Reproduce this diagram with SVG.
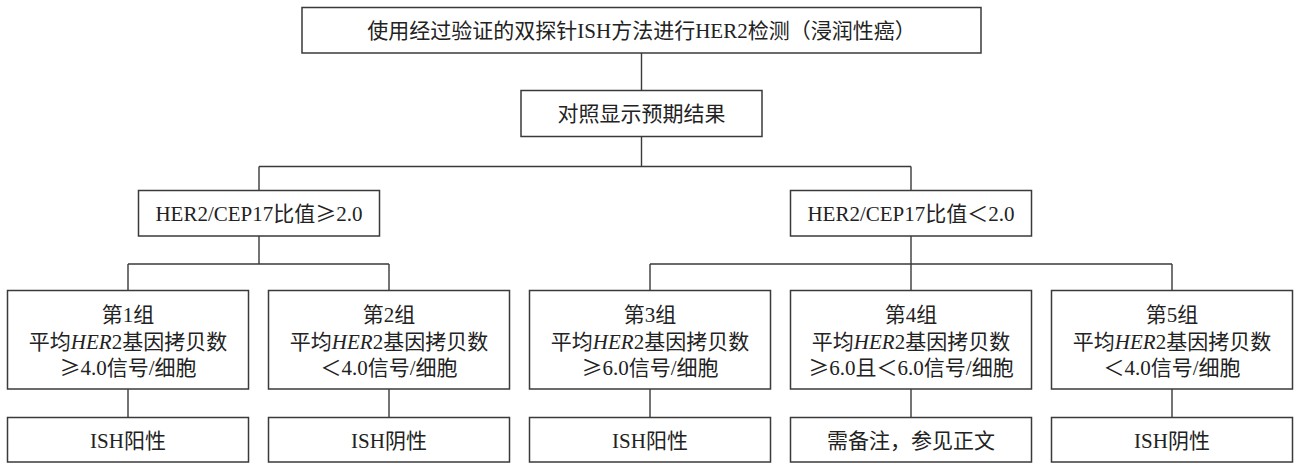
<svg xmlns="http://www.w3.org/2000/svg" width="1296" height="463" viewBox="0 0 1296 463">
<style>
.box{fill:#fff;stroke:#3a3a3a;stroke-width:1.5}
.ln{fill:none;stroke:#3a3a3a;stroke-width:1.4}
text{font-family:"Liberation Serif","Noto Sans CJK SC",serif;font-size:21px;fill:#222;text-anchor:middle}
.i{font-style:italic}
.s{font-family:"Noto Sans CJK SC",sans-serif}
</style>
<rect width="1296" height="463" fill="#fff"/>
<g id="connectors">
<path class="ln" d="M641.5,53 V90.5 M641.5,136.5 V166.5 M259,166.5 H911 M259,166.5 V190.5 M911,166.5 V190.5"/>
<path class="ln" d="M259,236 V264 M128,264 H389 M128,264 V290.5 M389,264 V290.5"/>
<path class="ln" d="M911,236 V264 M650,264 H1172 M650,264 V290.5 M911,264 V290.5 M1172,264 V290.5"/>
<path class="ln" d="M128,389 V417.5 M389,389 V417.5 M650,389 V417.5 M911,389 V417.5 M1172,389 V417.5"/>
</g>
<g id="top"><rect class="box" x="302" y="7.5" width="679" height="45.5"/><text x="641.5" y="38">使用经过验证的双探针ISH方法进行HER2检测（浸润性癌）</text></g>
<g id="control"><rect class="box" x="521" y="90.5" width="241" height="46"/><text x="641.5" y="121">对照显示预期结果</text></g>
<g id="ratio-high"><rect class="box" x="138.5" y="190.5" width="241" height="45.5"/><text x="259" y="221">HER2/CEP17比值<tspan class="s">≥</tspan>2.0</text></g>
<g id="ratio-low"><rect class="box" x="790.5" y="190.5" width="241" height="45.5"/><text x="911" y="221">HER2/CEP17比值＜2.0</text></g>
<g id="group1"><rect class="box" x="7.5" y="290.5" width="241" height="98.5"/><text x="128" y="322">第1组</text><text x="128" y="348.5">平均<tspan class="i">HER</tspan>2基因拷贝数</text><text x="128" y="375"><tspan class="s">≥</tspan>4.0信号/细胞</text></g>
<g id="group2"><rect class="box" x="268.5" y="290.5" width="241" height="98.5"/><text x="389" y="322">第2组</text><text x="389" y="348.5">平均<tspan class="i">HER</tspan>2基因拷贝数</text><text x="389" y="375">＜4.0信号/细胞</text></g>
<g id="group3"><rect class="box" x="529.5" y="290.5" width="241" height="98.5"/><text x="650" y="322">第3组</text><text x="650" y="348.5">平均<tspan class="i">HER</tspan>2基因拷贝数</text><text x="650" y="375"><tspan class="s">≥</tspan>6.0信号/细胞</text></g>
<g id="group4"><rect class="box" x="790.5" y="290.5" width="241" height="98.5"/><text x="911" y="322">第4组</text><text x="911" y="348.5">平均<tspan class="i">HER</tspan>2基因拷贝数</text><text x="911" y="375"><tspan class="s">≥</tspan>6.0且＜6.0信号/细胞</text></g>
<g id="group5"><rect class="box" x="1051.5" y="290.5" width="241" height="98.5"/><text x="1172" y="322">第5组</text><text x="1172" y="348.5">平均<tspan class="i">HER</tspan>2基因拷贝数</text><text x="1172" y="375">＜4.0信号/细胞</text></g>
<g id="result1"><rect class="box" x="7.5" y="417.5" width="241" height="44.5"/><text x="128" y="448">ISH阳性</text></g>
<g id="result2"><rect class="box" x="268.5" y="417.5" width="241" height="44.5"/><text x="389" y="448">ISH阴性</text></g>
<g id="result3"><rect class="box" x="529.5" y="417.5" width="241" height="44.5"/><text x="650" y="448">ISH阳性</text></g>
<g id="result4"><rect class="box" x="790.5" y="417.5" width="241" height="44.5"/><text x="911" y="448">需备注，参见正文</text></g>
<g id="result5"><rect class="box" x="1051.5" y="417.5" width="241" height="44.5"/><text x="1172" y="448">ISH阴性</text></g>
</svg>
